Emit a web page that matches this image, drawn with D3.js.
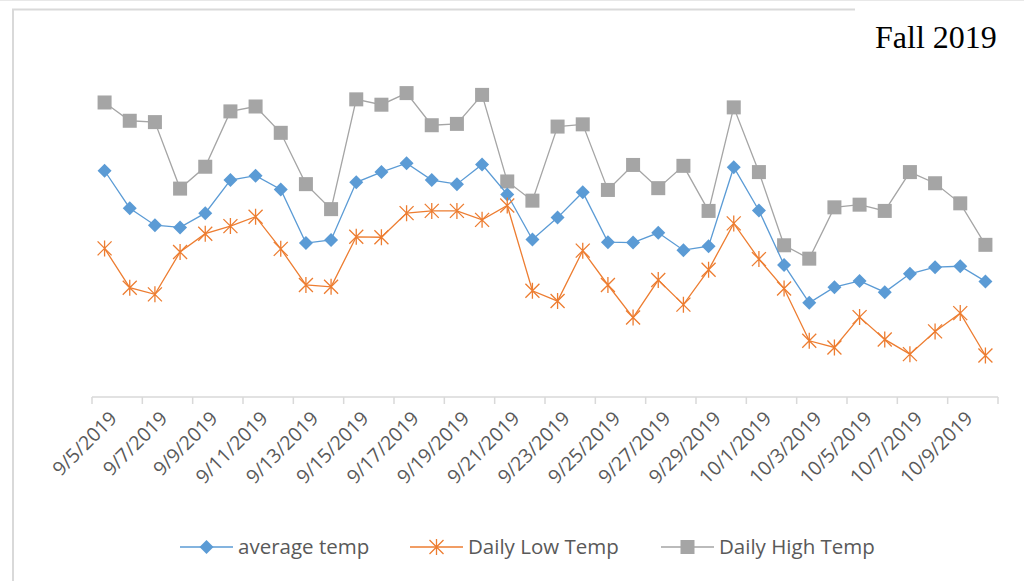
<!DOCTYPE html>
<html lang="en">
<head>
    <meta charset="UTF-8">
    <title>Fall 2019</title>
    <script src="https://cdn.jsdelivr.net/npm/d3@7"></script>
    <style>
        body { margin: 0; background: #fff; }
        .axis-label { font-family: "Open Sans", "Noto Sans", sans-serif; font-size: 19.5px; fill: #595959; }
        .legend text { font-family: "Open Sans", "Noto Sans", sans-serif; font-size: 20.5px; fill: #595959; }
    </style>
</head>
<body>

<div id="svgcanvas"></div>

<script>

    /* global d3 */

    var width = 1024;
    var height = 581;

    // 36 days, 9/5/2019 .. 10/10/2019
    var dates = [
        "9/5/2019", "9/6/2019", "9/7/2019", "9/8/2019", "9/9/2019", "9/10/2019",
        "9/11/2019", "9/12/2019", "9/13/2019", "9/14/2019", "9/15/2019", "9/16/2019",
        "9/17/2019", "9/18/2019", "9/19/2019", "9/20/2019", "9/21/2019", "9/22/2019",
        "9/23/2019", "9/24/2019", "9/25/2019", "9/26/2019", "9/27/2019", "9/28/2019",
        "9/29/2019", "9/30/2019", "10/1/2019", "10/2/2019", "10/3/2019", "10/4/2019",
        "10/5/2019", "10/6/2019", "10/7/2019", "10/8/2019", "10/9/2019", "10/10/2019"
    ];

    var averageTemp = [
        70.7, 62.3, 58.5, 58.0, 61.2, 68.6, 69.6, 66.5, 54.5, 55.2, 68.1, 70.4,
        72.4, 68.6, 67.7, 72.1, 65.4, 55.3, 60.2, 65.9, 54.7, 54.6, 56.8, 52.9,
        53.8, 71.5, 61.8, 49.6, 41.1, 44.6, 46.0, 43.5, 47.6, 49.1, 49.3, 45.9
    ];

    var dailyLow = [
        53.3, 44.5, 43.0, 52.5, 56.6, 58.3, 60.4, 53.2, 45.1, 44.7, 55.9, 55.8,
        61.2, 61.7, 61.7, 59.7, 62.9, 43.8, 41.5, 52.8, 45.1, 37.8, 46.2, 40.7,
        48.5, 58.9, 50.9, 44.3, 32.6, 31.1, 37.9, 32.9, 29.6, 34.7, 38.8, 29.3
    ];

    var dailyHigh = [
        86.0, 81.9, 81.6, 66.7, 71.6, 84.0, 85.1, 79.2, 67.7, 62.1, 86.7, 85.5,
        88.1, 80.9, 81.2, 87.7, 68.3, 64.0, 80.6, 81.1, 66.4, 72.0, 66.8, 71.8,
        61.7, 84.9, 70.4, 54.0, 51.0, 62.5, 63.1, 61.7, 70.4, 67.9, 63.4, 54.1
    ];

    var series = [
        { name: "average temp", values: averageTemp, color: "#5B9BD5", marker: "diamond" },
        { name: "Daily Low Temp", values: dailyLow, color: "#ED7D31", marker: "star" },
        { name: "Daily High Temp", values: dailyHigh, color: "#A5A5A5", marker: "square" }
    ];

    var svg = d3.select("#svgcanvas").append("svg")
        .attr("width", width)
        .attr("height", height);

    // frame bits left over from the screenshot
    svg.append("line")
        .attr("x1", 0).attr("x2", width).attr("y1", 0.5).attr("y2", 0.5)
        .attr("stroke", "#e8e8e8").attr("stroke-width", 1);
    svg.append("path")
        .attr("d", "M13,581V9.5H855")
        .attr("fill", "none")
        .attr("stroke", "#d9d9d9")
        .attr("stroke-width", 2);

    var x = d3.scaleBand()
        .domain(dates)
        .range([92, 998])
        .padding(0);

    var y = d3.scaleLinear()
        .domain([20, 100])
        .range([397, 40]);

    function cx(d, i) { return x(dates[i]) + x.bandwidth() / 2; }

    // category axis: tick every 2nd day on band edges
    var axisG = svg.append("g").attr("class", "x axis");
    axisG.append("line")
        .attr("x1", x.range()[0]).attr("x2", x.range()[1])
        .attr("y1", 397).attr("y2", 397)
        .attr("stroke", "#d9d9d9").attr("stroke-width", 1.5);

    var tickDates = dates.filter(function (d, i) { return i % 2 === 0; });

    axisG.selectAll("line.tick")
        .data(tickDates.concat([null]))
        .enter().append("line")
        .attr("class", "tick")
        .attr("x1", function (d) { return d === null ? x.range()[1] : x(d); })
        .attr("x2", function (d) { return d === null ? x.range()[1] : x(d); })
        .attr("y1", 397).attr("y2", 404)
        .attr("stroke", "#d9d9d9").attr("stroke-width", 1.5);

    axisG.selectAll("text")
        .data(tickDates)
        .enter().append("text")
        .attr("class", "axis-label")
        .attr("text-anchor", "end")
        .attr("transform", function (d) {
            return "translate(" + (x(d) + x.bandwidth() / 2 + 4) + ",410) rotate(-45)";
        })
        .attr("dy", "0.7em")
        .text(function (d) { return d; });

    var line = d3.line()
        .x(cx)
        .y(function (d) { return y(d); });

    var symbols = {
        diamond: function (sel, c) {
            sel.append("path").attr("d", "M0,-7L7,0L0,7L-7,0Z").attr("fill", c);
        },
        square: function (sel, c) {
            sel.append("rect").attr("x", -7).attr("y", -7).attr("width", 14).attr("height", 14).attr("fill", c);
        },
        star: function (sel, c) {
            sel.append("path")
                .attr("d", "M-7,-7L7,7M-7,7L7,-7M0,-8V8")
                .attr("stroke", c).attr("stroke-width", 1.3).attr("fill", "none");
        }
    };

    // draw gray first so blue/orange sit on top like the original
    var drawOrder = [series[2], series[0], series[1]];

    drawOrder.forEach(function (s) {
        var g = svg.append("g").attr("class", "series");
        g.append("path")
            .datum(s.values)
            .attr("d", line)
            .attr("fill", "none")
            .attr("stroke", s.color)
            .attr("stroke-width", 1.3);

        g.selectAll("g.pt")
            .data(s.values)
            .enter().append("g")
            .attr("class", "pt")
            .attr("transform", function (d, i) { return "translate(" + cx(d, i) + "," + y(d) + ")"; })
            .each(function () { symbols[s.marker](d3.select(this), s.color); });
    });

    // legend
    var legendX = [180, 410, 661];
    var legend = svg.append("g").attr("class", "legend")
        .selectAll("g")
        .data(series)
        .enter().append("g")
        .attr("transform", function (d, i) { return "translate(" + legendX[i] + ",547)"; });

    legend.append("line")
        .attr("x1", 0).attr("x2", 53)
        .attr("stroke", function (d) { return d.color; })
        .attr("stroke-width", 1.3);
    legend.each(function (d) {
        var m = d3.select(this).append("g").attr("transform", "translate(26.5,0)");
        symbols[d.marker](m, d.color);
    });
    legend.append("text")
        .attr("x", 58)
        .attr("dy", "0.35em")
        .text(function (d) { return d.name; });

    // title box
    svg.append("text")
        .attr("x", 875)
        .attr("y", 48)
        .attr("font-family", "'Liberation Serif', 'Times New Roman', serif")
        .attr("font-size", 32)
        .attr("fill", "#000")
        .text("Fall 2019");

</script>
</body>
</html>
